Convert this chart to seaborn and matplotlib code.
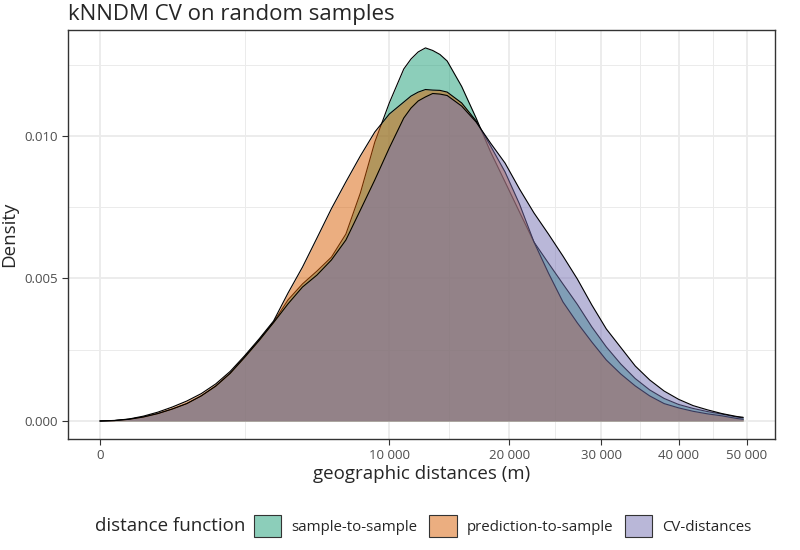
import matplotlib
matplotlib.use('Agg')
import numpy as np
import seaborn as sns
import matplotlib.pyplot as plt
from matplotlib.patches import Patch

sns.set_theme(style='whitegrid')
plt.rcParams['font.family'] = ['Open Sans', 'DejaVu Sans']

distance_m = [0, 25, 100, 225, 400, 625, 900, 1225, 1600, 2025, 2500, 3025, 3600,
              4225, 4900, 5625, 6400, 7225, 8100, 9025, 10000, 11025, 11556, 12100,
              12656, 13225, 13806, 14400, 15625, 16900, 18225, 19600, 21025, 22500,
              24025, 25600, 27225, 28900, 30625, 32400, 34225, 36100, 38025, 40000,
              42025, 44100, 46225, 48400, 49420]

dens_sample = [0, 0.000014, 0.00006, 0.00014, 0.00026, 0.00042, 0.00061, 0.00088, 0.00123,
               0.00168, 0.00225, 0.00284, 0.00347,
               0.00425, 0.00481, 0.00526, 0.00575, 0.00656, 0.00800, 0.00979, 0.01116,
               0.01235, 0.01270, 0.01295, 0.01309, 0.01300, 0.01286, 0.01263,
               0.01174, 0.01063, 0.00944, 0.00839, 0.00733, 0.00628,
               0.00554, 0.00481, 0.00409, 0.00330, 0.00260, 0.00200, 0.00149, 0.00109,
               0.00079, 0.00058, 0.00044, 0.00033, 0.00024, 0.00014, 0.00011]

dens_pred = [0, 0.00002, 0.00007, 0.00017, 0.00031, 0.00049, 0.00070, 0.00096, 0.00130,
             0.00174, 0.00229, 0.00288, 0.00351,
             0.00449, 0.00540, 0.00642, 0.00745, 0.00839, 0.00930, 0.01014, 0.01077,
             0.01119, 0.01140, 0.01154, 0.01163, 0.01161, 0.01160, 0.01154,
             0.01116, 0.01053, 0.00965, 0.00874, 0.00761, 0.00628,
             0.00519, 0.00418, 0.00344, 0.00277, 0.00214, 0.00165, 0.00123, 0.00088,
             0.00061, 0.00046, 0.00034, 0.00025, 0.00018, 0.00009, 0.00006]

dens_cv = [0, 0.000014, 0.00006, 0.00014, 0.00026, 0.00042, 0.00061, 0.00088, 0.00122,
           0.00167, 0.00223, 0.00282, 0.00345,
           0.00411, 0.00470, 0.00512, 0.00565, 0.00635, 0.00740, 0.00846, 0.00958,
           0.01063, 0.01098, 0.01123, 0.01137, 0.01149, 0.01147, 0.01142,
           0.01105, 0.01049, 0.00975, 0.00905, 0.00814, 0.00730,
           0.00656, 0.00579, 0.00498, 0.00407, 0.00323, 0.00258, 0.00193, 0.00144,
           0.00105, 0.00076, 0.00054, 0.00039, 0.00026, 0.00016, 0.00013]

series_names = ['sample-to-sample', 'prediction-to-sample', 'CV-distances']
series_dens = [dens_sample, dens_pred, dens_cv]
colors = sns.color_palette('Dark2', 3)

x_ticks = [0, 10000, 20000, 30000, 40000, 50000]
x_labels = ['0', '10 000', '20 000', '30 000', '40 000', '50 000']
y_ticks = [0.0, 0.005, 0.010]
y_labels = ['0.000', '0.005', '0.010']


def fwd(x):
    x = np.asarray(x, dtype=float)
    return np.sign(x) * np.sqrt(np.abs(x))


def inv(s):
    s = np.asarray(s, dtype=float)
    return np.sign(s) * s ** 2


fig, ax = plt.subplots(figsize=(8, 5.5), dpi=100)
fig.subplots_adjust(left=0.085, right=0.96875, bottom=0.2018, top=0.9455)

for name, dens, col in zip(series_names, series_dens, colors):
    ax.fill_between(distance_m, 0, dens, color=col, alpha=0.5, lw=0, zorder=2)
    sns.lineplot(x=distance_m, y=dens, color='black', lw=0.8, sort=False,
                 ax=ax, zorder=2)

ax.set_xscale('function', functions=(fwd, inv))
ax.set_xlim(-122, 54430)
ax.set_ylim(-0.000632, 0.013719)

ax.set_xticks(x_ticks)
ax.set_xticklabels(x_labels)
ax.set_yticks(y_ticks)
ax.set_yticklabels(y_labels)

# minor grid halfway between major ticks on the sqrt scale
sq = np.sqrt(x_ticks)
ax.set_xticks(((sq[:-1] + sq[1:]) / 2) ** 2, minor=True)
ax.set_yticks([0.0025, 0.0075, 0.0125], minor=True)

ax.set_facecolor('white')
ax.grid(which='major', color='#EBEBEB', lw=1.3)
ax.grid(which='minor', color='#EBEBEB', lw=0.7)
ax.set_axisbelow(True)
for sp in ax.spines.values():
    sp.set_color('#333333')
    sp.set_linewidth(1.0)
    sp.set_visible(True)

ax.tick_params(which='major', length=4.5, width=0.8, color='#333333',
               labelsize=9.5, labelcolor='#4D4D4D', pad=2.5, bottom=True, left=True)
ax.tick_params(which='minor', length=0)

ax.set_xlabel('geographic distances (m)', fontsize=13.5, labelpad=2)
ax.set_ylabel('Density', fontsize=13.5, labelpad=5)
ax.set_title('kNNDM CV on random samples', loc='left', fontsize=16, pad=7)

handles = [Patch(facecolor=(*c, 0.5), edgecolor='#333333', lw=0.8) for c in colors]
fig.text(245 / 800, 1 - 526 / 550, 'distance function', fontsize=13.5,
         ha='right', va='center')
fig.legend(handles, series_names, loc='center left', ncol=3,
           bbox_to_anchor=(254 / 800, 1 - 526 / 550), frameon=False,
           fontsize=10.8, handlelength=1.83, handleheight=1.83, handletextpad=0.65,
           columnspacing=0.8, borderpad=0, borderaxespad=0)

fig.savefig('out.png', dpi=100)
